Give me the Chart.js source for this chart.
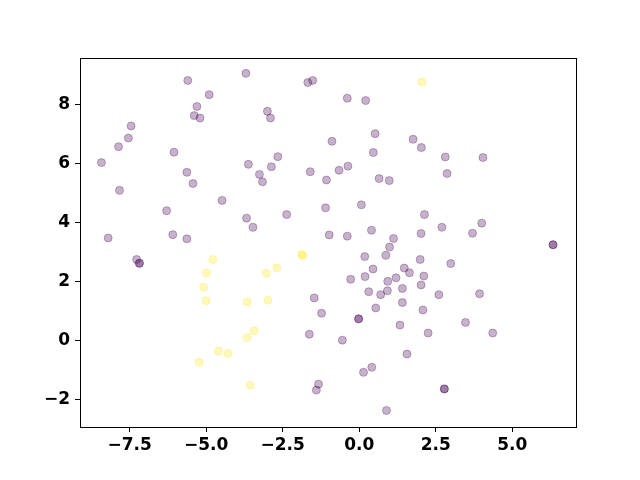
<!DOCTYPE html>
<html>
<head>
<meta charset="utf-8">
<script src="https://cdn.jsdelivr.net/npm/chart.js@4/dist/chart.umd.min.js"></script>
<style>
  html, body { margin: 0; padding: 0; background: #fff; }
  #wrap { width: 640px; height: 480px; }
</style>
</head>
<body>
<div id="wrap"><canvas id="c" width="640" height="480"></canvas></div>
<script>
// valeurs
const purpleX = [-8.42,-7.45,-7.54,-7.86,-7.83,-8.20,-5.60,-4.90,-5.30,-5.39,-5.20,-6.05,-5.63,-5.43,-4.48,-6.29,-6.09,-5.63,
  -3.70,-3.62,-3.68,-1.68,-1.52,-0.39,0.21,-3.00,-2.90,-0.89,0.52,1.76,0.46,-2.66,-2.87,-3.26,-3.16,-1.60,-1.07,-0.66,-0.37,
  0.65,0.98,-3.47,-2.37,-1.10,0.07,-0.98,-0.39,0.40,1.12,2.03,2.81,4.04,2.87,2.13,4.00,2.70,2.02,3.70,6.33,6.33,
  -7.27,-7.18,-7.18,-1.47,-1.23,-1.63,-0.55,-0.02,-0.02,-1.33,-1.40,0.14,0.41,0.89,-0.28,0.18,0.45,0.19,0.31,0.70,
  0.93,0.92,0.54,0.87,0.99,1.20,1.47,1.64,1.41,1.41,1.33,1.56,1.99,2.99,2.11,2.02,2.60,3.93,2.08,3.47,2.25,4.36,2.78,2.78];
const purpleY = [6.02,7.26,6.85,6.56,5.08,3.47,8.80,8.32,7.92,7.61,7.53,6.37,5.69,5.31,4.74,4.39,3.58,3.44,
  9.04,5.96,4.14,8.73,8.80,8.20,8.12,7.76,7.53,6.74,7.00,6.81,6.36,6.22,5.88,5.62,5.37,5.71,5.43,5.76,5.90,
  5.48,5.41,3.83,4.26,4.49,4.59,3.57,3.53,3.73,3.45,6.53,6.21,6.19,5.65,4.26,3.97,3.83,3.62,3.63,3.24,3.24,
  2.74,2.61,2.61,1.44,0.92,0.21,0.01,0.73,0.73,-1.48,-1.68,-1.08,-0.91,-2.37,2.07,2.84,2.42,2.16,1.65,1.55,
  2.00,1.68,1.10,2.88,3.16,2.12,2.45,2.29,1.76,1.28,0.52,-0.46,2.74,2.60,2.18,1.88,1.55,1.58,1.03,0.61,0.25,0.25,-1.64,-1.64];
const yellowX = [2.05,-4.78,-4.99,-5.08,-5.00,-3.66,-3.66,-4.60,-4.28,-5.23,-3.57,-1.88,-1.84,-2.69,-3.04,-2.98,-3.43];
const yellowY = [8.75,2.74,2.28,1.80,1.34,1.30,0.10,-0.36,-0.44,-0.74,-1.52,2.91,2.87,2.46,2.27,1.36,0.33];

const xTicks = [-7.5, -5.0, -2.5, 0.0, 2.5, 5.0];
const yTicks = [-2, 0, 2, 4, 6, 8];
const xTickLabels = ['\u22127.5', '\u22125.0', '\u22122.5', '0.0', '2.5', '5.0'];
const yTickLabels = ['\u22122', '0', '2', '4', '6', '8'];

const toPts = (xs, ys) => xs.map((x, i) => ({ x, y: ys[i] }));

// cadre complet autour de la zone
const frame = {
  id: 'frame',
  afterDraw(chart) {
    const { ctx, chartArea: a } = chart;
    ctx.save();
    ctx.strokeStyle = '#000';
    ctx.lineWidth = 1;
    ctx.strokeRect(Math.round(a.left) + 0.5, Math.round(a.top) + 0.5,
      Math.round(a.right - a.left), Math.round(a.bottom - a.top));
    ctx.restore();
  }
};

const font = { family: 'DejaVu Sans', size: 17, weight: 'bold' };

new Chart(document.getElementById('c'), {
  type: 'scatter',
  data: {
    datasets: [
      { data: toPts(purpleX, purpleY), backgroundColor: 'rgba(68,1,84,0.3)', borderColor: 'rgba(68,1,84,0.3)' },
      { data: toPts(yellowX, yellowY), backgroundColor: 'rgba(253,231,37,0.3)', borderColor: 'rgba(253,231,37,0.3)' }
    ]
  },
  options: {
    responsive: false,
    animation: false,
    layout: { padding: { top: 58, right: 64, left: 0, bottom: 0 } },
    elements: { point: { radius: 4, borderWidth: 1, hoverRadius: 4 } },
    plugins: { legend: { display: false }, tooltip: { enabled: false } },
    scales: {
      x: {
        type: 'linear', min: -9.12, max: 7.08,
        afterBuildTicks: s => { s.ticks = xTicks.map(v => ({ value: v })); },
        afterFit: s => { s.height = 53; },
        ticks: { color: '#000', font, padding: 3, maxRotation: 0,
          callback: (v) => xTickLabels[xTicks.indexOf(v)] },
        grid: { drawOnChartArea: false, color: '#000', tickLength: 5 },
        border: { display: false }
      },
      y: {
        type: 'linear', min: -2.93, max: 9.56,
        afterBuildTicks: s => { s.ticks = yTicks.map(v => ({ value: v })); },
        afterFit: s => { s.width = 80; },
        ticks: { color: '#000', font, padding: 5,
          callback: (v) => yTickLabels[yTicks.indexOf(v)] },
        grid: { drawOnChartArea: false, color: '#000', tickLength: 5 },
        border: { display: false }
      }
    }
  },
  plugins: [frame]
});
</script>
</body>
</html>
